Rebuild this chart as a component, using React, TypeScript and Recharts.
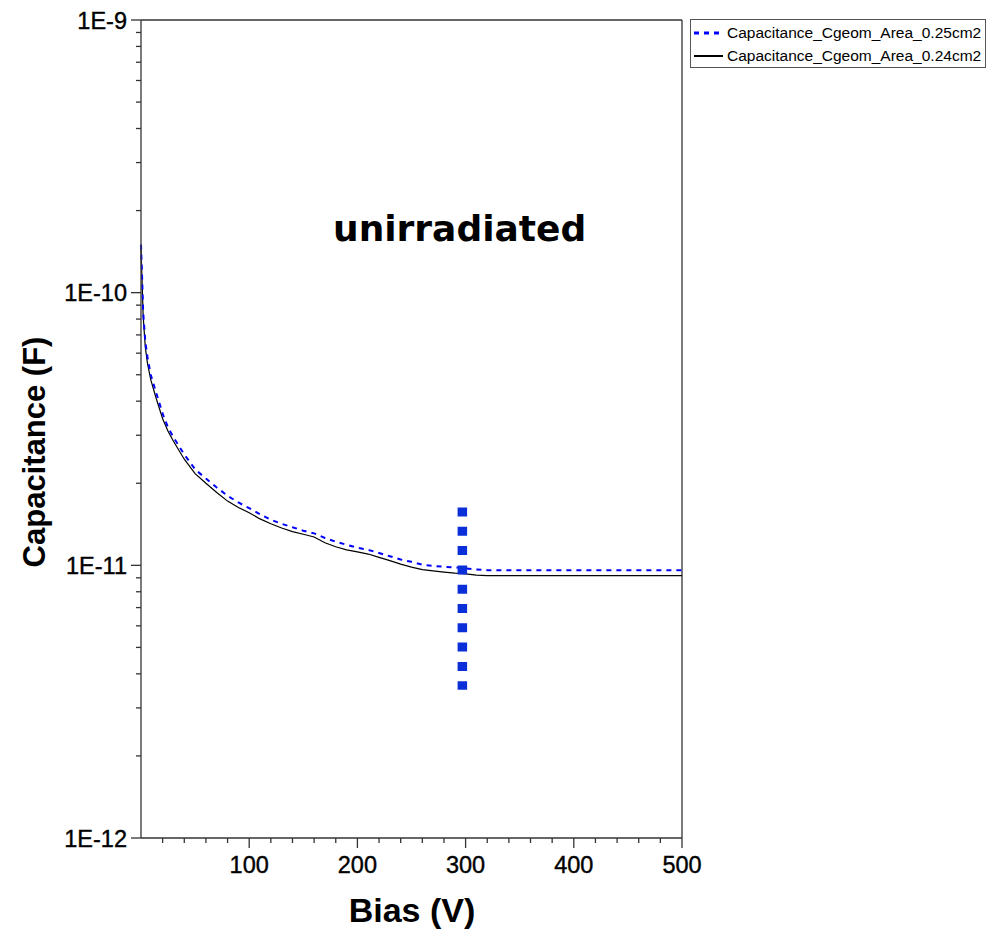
import React from 'react'
import { LineChart, Line, XAxis, YAxis, ReferenceLine } from 'recharts'

// bias points (V)
const BIAS = [
  0, 1, 2, 4, 6, 9, 14, 20, 25, 30,
  40, 50, 60, 70, 80, 90, 100, 110, 120, 130, 140, 150, 160, 170, 180, 190, 200,
  210, 220, 230, 240, 250, 260, 270, 280, 290, 300, 310, 320,
  340, 360, 380, 400, 420, 440, 460, 480, 500,
]

// Capacitance_Cgeom_Area_0.25cm2 (F)
const CAP_025 = [
  1.5e-10, 1.15e-10, 8.5e-11, 6.6e-11, 5.8e-11, 5.0e-11, 4.3e-11, 3.6e-11, 3.2e-11, 2.95e-11,
  2.55e-11, 2.25e-11, 2.08e-11, 1.93e-11, 1.8e-11, 1.7e-11, 1.62e-11, 1.54e-11, 1.47e-11, 1.42e-11,
  1.38e-11, 1.34e-11, 1.31e-11, 1.26e-11, 1.22e-11, 1.19e-11, 1.16e-11, 1.14e-11, 1.11e-11, 1.08e-11,
  1.05e-11, 1.03e-11, 1.005e-11, 9.95e-12, 9.88e-12, 9.83e-12, 9.75e-12, 9.65e-12, 9.6e-12,
  9.6e-12, 9.6e-12, 9.6e-12, 9.6e-12, 9.6e-12, 9.6e-12, 9.6e-12, 9.6e-12, 9.6e-12,
]

// Capacitance_Cgeom_Area_0.24cm2 (F)
const CAP_024 = [
  1.45e-10, 1.1e-10, 8.2e-11, 6.3e-11, 5.5e-11, 4.8e-11, 4.1e-11, 3.45e-11, 3.1e-11, 2.85e-11,
  2.45e-11, 2.17e-11, 2.0e-11, 1.85e-11, 1.72e-11, 1.63e-11, 1.56e-11, 1.48e-11, 1.42e-11, 1.37e-11,
  1.33e-11, 1.3e-11, 1.27e-11, 1.21e-11, 1.17e-11, 1.14e-11, 1.12e-11, 1.1e-11, 1.07e-11, 1.04e-11,
  1.01e-11, 9.85e-12, 9.65e-12, 9.55e-12, 9.45e-12, 9.36e-12, 9.3e-12, 9.2e-12, 9.16e-12,
  9.16e-12, 9.16e-12, 9.16e-12, 9.16e-12, 9.16e-12, 9.16e-12, 9.16e-12, 9.16e-12, 9.16e-12,
]

const X_TICKS = [20, 40, 60, 80, 100, 120, 140, 160, 180, 200, 220, 240, 260, 280, 300, 320, 340, 360, 380, 400, 420, 440, 460, 480, 500]
const X_MAJOR = [100, 200, 300, 400, 500]
const Y_DECADES = [-12, -11, -10, -9]

// depletion marker (bias V, capacitance range F)
const MARKER_BIAS = 297
const MARKER_TOP = 1.63e-11
const MARKER_BOTTOM = 3.5e-12

const SERIES = [
  { key: 'c25', name: 'Capacitance_Cgeom_Area_0.25cm2', color: '#0000ff', dash: '5 5', width: 2 },
  { key: 'c24', name: 'Capacitance_Cgeom_Area_0.24cm2', color: '#000000', dash: undefined, width: 1.2 },
]

const data = BIAS.map((v, i) => ({ v, c25: CAP_025[i], c24: CAP_024[i] }))

const yTicks: number[] = []
Y_DECADES.forEach((e, i) => {
  yTicks.push(Math.pow(10, e))
  if (i < Y_DECADES.length - 1) {
    for (let m = 2; m <= 9; m++) yTicks.push(m * Math.pow(10, e))
  }
})

const isMajorY = (val: number) => {
  const l = Math.log10(val)
  return Math.abs(l - Math.round(l)) < 1e-6
}

const FONT = '"Liberation Sans", Arial, sans-serif'

function XTick(props: any) {
  const { x, y, payload } = props
  const major = X_MAJOR.includes(payload.value)
  return (
    <g>
      <line x1={x} x2={x} y1={y} y2={y + (major ? 10 : 5)} stroke="#333" strokeWidth={1.3} />
      {major && (
        <text
          x={x}
          y={y + 35}
          textAnchor="middle"
          fontFamily={FONT}
          fontSize={23.5}
          fill="#000"
          stroke="#000"
          strokeWidth={0.4}
        >
          {payload.value}
        </text>
      )}
    </g>
  )
}

function YTick(props: any) {
  const { x, y, payload } = props
  const major = isMajorY(payload.value)
  const exp = Math.round(Math.log10(payload.value))
  return (
    <g>
      <line x1={x - (major ? 10 : 5)} x2={x} y1={y} y2={y} stroke="#333" strokeWidth={1.3} />
      {major && (
        <text
          x={x - 14}
          y={y + 8.5}
          textAnchor="end"
          fontFamily={FONT}
          fontSize={23.5}
          fill="#000"
          stroke="#000"
          strokeWidth={0.4}
        >
          {`1E${exp}`}
        </text>
      )}
    </g>
  )
}

function LegendBox() {
  return (
    <div
      style={{
        position: 'absolute',
        left: 690,
        top: 19,
        border: '1px solid #555',
        width: 296,
        height: 49,
        background: '#fff',
        fontFamily: FONT,
        fontSize: 15.5,
        boxSizing: 'border-box',
      }}
    >
      {SERIES.map((s, i) => (
        <div key={s.key} style={{ display: 'flex', alignItems: 'center', height: 23, marginTop: i === 0 ? 1 : 0 }}>
          <svg width={36} height={10} style={{ flex: 'none' }}>
            <line x1={3} x2={32} y1={5} y2={5} stroke={s.color} strokeWidth={s.width + 0.8} strokeDasharray={s.dash} />
          </svg>
          <span style={{ whiteSpace: 'nowrap' }}>{s.name}</span>
        </div>
      ))}
    </div>
  )
}

export default function App() {
  return (
    <div style={{ position: 'absolute', left: 0, top: 0, width: 987, height: 929, background: '#fff' }}>
      <LineChart width={987} height={929} data={data} margin={{ top: 20, right: 305, bottom: 0, left: 0 }}>
        <XAxis
          dataKey="v"
          type="number"
          domain={[0, 500]}
          ticks={X_TICKS}
          interval={0}
          height={91}
          tickSize={0}
          tickMargin={0}
          tick={<XTick />}
          axisLine={{ stroke: '#333', strokeWidth: 1.3 }}
          tickLine={false}
        />
        <YAxis
          type="number"
          scale="log"
          domain={[1e-12, 1e-9]}
          allowDataOverflow
          ticks={yTicks}
          interval={0}
          width={141}
          tickSize={0}
          tickMargin={0}
          tick={<YTick />}
          axisLine={{ stroke: '#333', strokeWidth: 1.3 }}
          tickLine={false}
        />
        <ReferenceLine y={1e-9} stroke="#333" strokeWidth={1.3} />
        <ReferenceLine x={500} stroke="#333" strokeWidth={1.3} />
        <Line
          dataKey="c24"
          type="linear"
          stroke="#000"
          strokeWidth={1.2}
          dot={false}
          isAnimationActive={false}
        />
        <Line
          dataKey="c25"
          type="linear"
          stroke="#0000ff"
          strokeWidth={2}
          strokeDasharray="5 5"
          dot={false}
          isAnimationActive={false}
        />
        <ReferenceLine
          segment={[
            { x: MARKER_BIAS, y: MARKER_TOP },
            { x: MARKER_BIAS, y: MARKER_BOTTOM },
          ]}
          stroke="#0a2ed8"
          strokeWidth={9.5}
          strokeDasharray="9 10.3"
        />
      </LineChart>
      <LegendBox />
      <div
        style={{
          position: 'absolute',
          left: 0,
          top: 910,
          width: 824,
          textAlign: 'center',
          fontFamily: FONT,
          fontWeight: 'bold',
          fontSize: 34,
          lineHeight: '0px',
        }}
      >
        Bias (V)
      </div>
      <div
        style={{
          position: 'absolute',
          left: 35,
          top: 452,
          transform: 'translate(-50%, -50%) rotate(-90deg)',
          fontFamily: FONT,
          fontWeight: 'bold',
          fontSize: 31,
          whiteSpace: 'nowrap',
        }}
      >
        Capacitance (F)
      </div>
      <div
        style={{
          position: 'absolute',
          left: 333,
          top: 208,
          fontFamily: '"Comic Sans MS", "DejaVu Sans", sans-serif',
          fontWeight: 'bold',
          fontSize: 36,
          whiteSpace: 'nowrap',
        }}
      >
        unirradiated
      </div>
    </div>
  )
}
